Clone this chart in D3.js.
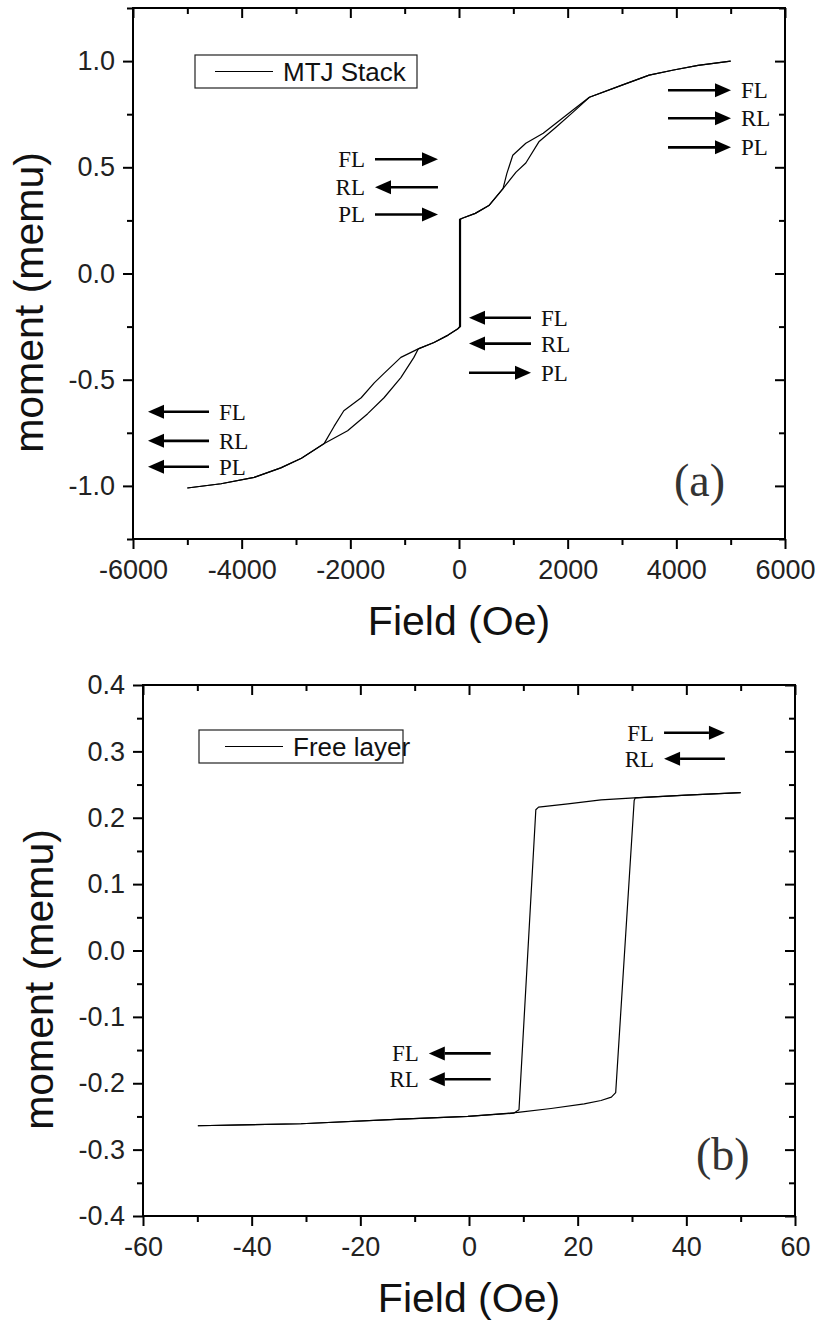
<!DOCTYPE html>
<meta charset="utf-8">
<script src="https://d3js.org/d3.v7.min.js"></script>
<style>
body { margin: 0; background: #fff; }
.tick text { font-family: "Liberation Sans", Arial, sans-serif; font-size: 27px; fill: #222; }
.ttl { font-family: "Liberation Sans", Arial, sans-serif; font-size: 41px; fill: #111; }
.note { font-family: "Liberation Serif", "Times New Roman", serif; font-size: 23px; fill: #111; }
.tag { font-family: "Liberation Serif", "Times New Roman", serif; font-size: 46px; fill: #333; }
.leg { font-family: "Liberation Sans", Arial, sans-serif; font-size: 26px; fill: #111; }
</style>
<body>
<div id="chart"></div>
<script>

// (a) MTJ stack loop, field in Oe, moment in memu
var stackDownH = [5000, 4400, 3950, 3500, 3000, 2400, 2150, 1850, 1550, 1230, 990, 880, 810, 550, 300, 60, 10, 10, -20, -200, -460, -750, -1070, -1380, -1560, -1800, -2120, -2300, -2480, -2900, -3280, -3770, -4380, -5000]
var stackDownM = [1.0, 0.98, 0.958, 0.934, 0.887, 0.83, 0.78, 0.72, 0.66, 0.613, 0.557, 0.47, 0.40, 0.32, 0.283, 0.26, 0.255, -0.25, -0.26, -0.29, -0.325, -0.355, -0.395, -0.47, -0.515, -0.585, -0.646, -0.72, -0.80, -0.87, -0.915, -0.96, -0.99, -1.01]
var stackUpH = [-5000, -4380, -3770, -3280, -2900, -2480, -2050, -1680, -1380, -1070, -830, -750, -460, -200, -20, 28, 28, 60, 300, 550, 810, 1050, 1230, 1470, 1790, 2100, 2400, 3000, 3500, 3950, 4400, 5000]
var stackUpM = [-1.01, -0.99, -0.96, -0.915, -0.87, -0.80, -0.74, -0.66, -0.585, -0.49, -0.395, -0.355, -0.325, -0.29, -0.26, -0.25, 0.255, 0.26, 0.283, 0.32, 0.40, 0.477, 0.52, 0.62, 0.69, 0.76, 0.83, 0.887, 0.934, 0.958, 0.98, 1.0]

// (b) free layer loop
var freeDownH = [50, 40, 30.4, 24.3, 18.2, 12.8, 12.3, 9.2, 8.3, -0.2, -12.5, -30.9, -49.9]
var freeDownM = [0.238, 0.234, 0.230, 0.227, 0.221, 0.216, 0.212, -0.240, -0.245, -0.250, -0.254, -0.261, -0.264]
var freeUpH = [-49.9, -30.9, -12.5, -0.2, 9, 15.1, 21.2, 24.3, 26.2, 27, 30.4, 30.6, 40, 50]
var freeUpM = [-0.264, -0.261, -0.254, -0.250, -0.244, -0.238, -0.231, -0.226, -0.221, -0.214, 0.226, 0.230, 0.234, 0.238]

// ticks
var topXTicks = [-6000, -4000, -2000, 0, 2000, 4000, 6000]
var topXMinor = [-5000, -3000, -1000, 1000, 3000, 5000]
var topYTicks = [-1.0, -0.5, 0.0, 0.5, 1.0]
var topYMinor = [-1.25, -0.75, -0.25, 0.25, 0.75, 1.25]
var botXTicks = [-60, -40, -20, 0, 20, 40, 60]
var botXMinor = [-50, -30, -10, 10, 30, 50]
var botYTicks = [-0.4, -0.3, -0.2, -0.1, 0.0, 0.1, 0.2, 0.3, 0.4]
var botYMinor = [-0.35, -0.25, -0.15, -0.05, 0.05, 0.15, 0.25, 0.35]

// arrow annotations: label, field from/to, moment, direction, label side
var topNotes = [
  {t: "FL", h0: -1546, h1: -387, m: 0.538, dir: 1, side: "l"},
  {t: "RL", h0: -1546, h1: -387, m: 0.406, dir: -1, side: "l"},
  {t: "PL", h0: -1546, h1: -387, m: 0.278, dir: 1, side: "l"},
  {t: "FL", h0: 3847, h1: 5006, m: 0.863, dir: 1, side: "r"},
  {t: "RL", h0: 3847, h1: 5006, m: 0.731, dir: 1, side: "r"},
  {t: "PL", h0: 3847, h1: 5006, m: 0.594, dir: 1, side: "r"},
  {t: "FL", h0: 184, h1: 1325, m: -0.208, dir: -1, side: "r"},
  {t: "RL", h0: 184, h1: 1325, m: -0.330, dir: -1, side: "r"},
  {t: "PL", h0: 184, h1: 1325, m: -0.467, dir: 1, side: "r"},
  {t: "FL", h0: -5724, h1: -4601, m: -0.651, dir: -1, side: "r"},
  {t: "RL", h0: -5724, h1: -4601, m: -0.788, dir: -1, side: "r"},
  {t: "PL", h0: -5724, h1: -4601, m: -0.910, dir: -1, side: "r"}
]
var botNotes = [
  {t: "FL", h0: 35.9, h1: 47.1, m: 0.328, dir: 1, side: "l"},
  {t: "RL", h0: 35.9, h1: 47.1, m: 0.289, dir: -1, side: "l"},
  {t: "FL", h0: -7.4, h1: 4.0, m: -0.155, dir: -1, side: "l"},
  {t: "RL", h0: -7.4, h1: 4.0, m: -0.194, dir: -1, side: "l"}
]

var width = 821
var height = 1323

var svg = d3.select("#chart")
  .append("svg")
    .attr("width", width)
    .attr("height", height)

svg.append("rect").attr("width", width).attr("height", height).attr("fill", "#fff")

function drawPanel(p) {
  var x = d3.scaleLinear().domain(p.xDomain).range([p.left, p.right])
  var y = d3.scaleLinear().domain(p.yDomain).range([p.bottom, p.top])
  var g = svg.append("g")

  // axes: bottom/left ticks outward, top/right inward
  var sides = [
    ["b", "translate(0," + p.bottom + ")", 1],
    ["l", "translate(" + p.left + ",0)", 1],
    ["t", "translate(0," + p.top + ")", -1],
    ["r", "translate(" + p.right + ",0)", -1]
  ]
  function makeAxis(s) {
    if (s == "b") return d3.axisBottom(x)
    if (s == "l") return d3.axisLeft(y)
    if (s == "t") return d3.axisTop(x)
    return d3.axisRight(y)
  }
  sides.forEach(function(a) {
    var horiz = (a[0] == "b" || a[0] == "t")
    var minor = makeAxis(a[0]).tickValues(horiz ? p.xMinor : p.yMinor)
      .tickSize(6 * a[2]).tickSizeOuter(0).tickFormat("")
    g.append("g").attr("transform", a[1]).call(minor)

    var major = makeAxis(a[0]).tickValues(horiz ? p.xTicks : p.yTicks)
      .tickSize(10 * a[2]).tickSizeOuter(0)
    if (a[0] == "b") major.tickFormat(p.xFmt).tickPadding(11)
    else if (a[0] == "l") major.tickFormat(p.yFmt).tickPadding(8)
    else major.tickFormat("")
    g.append("g").attr("transform", a[1]).call(major)
  })
  g.selectAll(".domain").remove()
  g.selectAll(".tick line").attr("stroke", "#000").attr("stroke-width", 2)

  g.append("rect")
    .attr("x", p.left).attr("y", p.top)
    .attr("width", p.right - p.left).attr("height", p.bottom - p.top)
    .attr("fill", "none").attr("stroke", "#000").attr("stroke-width", 2)

  // loop branches
  var line = d3.line().x(function(d) { return x(d[0]) }).y(function(d) { return y(d[1]) })
  p.branches.forEach(function(b) {
    g.append("path").datum(d3.zip(b[0], b[1]))
      .attr("d", line).attr("fill", "none")
      .attr("stroke", "#000").attr("stroke-width", 1.2).attr("stroke-linejoin", "round")
  })

  // arrows
  p.notes.forEach(function(n) {
    var xa = x(n.h0), xb = x(n.h1), yy = y(n.m)
    var tip = n.dir > 0 ? xb : xa
    var tail = n.dir > 0 ? xa : xb
    var hl = 16 * n.dir
    g.append("line").attr("x1", tail).attr("x2", tip - hl).attr("y1", yy).attr("y2", yy)
      .attr("stroke", "#000").attr("stroke-width", 2.6)
    g.append("path")
      .attr("d", "M" + tip + "," + yy + "L" + (tip - hl) + "," + (yy - 7) + "L" + (tip - hl) + "," + (yy + 7) + "Z")
      .attr("fill", "#000")
    g.append("text").attr("class", "note")
      .attr("x", n.side == "l" ? xa - 10 : xb + 10)
      .attr("y", yy + 8)
      .attr("text-anchor", n.side == "l" ? "end" : "start")
      .text(n.t)
  })

  // legend
  var L = p.legend
  g.append("rect").attr("x", L.x).attr("y", L.y).attr("width", L.w).attr("height", 33)
    .attr("fill", "#fff").attr("stroke", "#222").attr("stroke-width", 1.2)
  g.append("line").attr("x1", L.x + L.pad).attr("x2", L.x + L.pad + 58)
    .attr("y1", L.y + 16.5).attr("y2", L.y + 16.5).attr("stroke", "#000").attr("stroke-width", 1.2)
  g.append("text").attr("class", "leg").attr("x", L.x + L.pad + 68).attr("y", L.y + 26).text(L.text)

  // panel tag
  g.append("text").attr("class", "tag").attr("x", p.tag.x).attr("y", p.tag.y).text(p.tag.t)

  // titles
  g.append("text").attr("class", "ttl")
    .attr("x", (p.left + p.right) / 2).attr("y", p.bottom + 96)
    .attr("text-anchor", "middle").text("Field (Oe)")
  g.append("text").attr("class", "ttl")
    .attr("transform", "translate(" + (p.left - 90) + "," + ((p.top + p.bottom) / 2 + 29) + ") rotate(-90)")
    .attr("text-anchor", "middle").text("moment (memu)")
}

drawPanel({
  left: 133, right: 785, top: 8, bottom: 539,
  xDomain: [-6000, 6000], yDomain: [-1.25, 1.25],
  xTicks: topXTicks, xMinor: topXMinor, yTicks: topYTicks, yMinor: topYMinor,
  xFmt: function(d) { return String(d) }, yFmt: function(d) { return d.toFixed(1) },
  branches: [[stackDownH, stackDownM], [stackUpH, stackUpM]],
  notes: topNotes,
  legend: {x: 195, y: 55, w: 222, pad: 20, text: "MTJ Stack"},
  tag: {x: 674, y: 496, t: "(a)"}
})

drawPanel({
  left: 143, right: 795, top: 685, bottom: 1216,
  xDomain: [-60, 60], yDomain: [-0.4, 0.4],
  xTicks: botXTicks, xMinor: botXMinor, yTicks: botYTicks, yMinor: botYMinor,
  xFmt: function(d) { return String(d) }, yFmt: function(d) { return d.toFixed(1) },
  branches: [[freeDownH, freeDownM], [freeUpH, freeUpM]],
  notes: botNotes,
  legend: {x: 199, y: 730, w: 204, pad: 26, text: "Free layer"},
  tag: {x: 696, y: 1170, t: "(b)"}
})

</script>
</body>
